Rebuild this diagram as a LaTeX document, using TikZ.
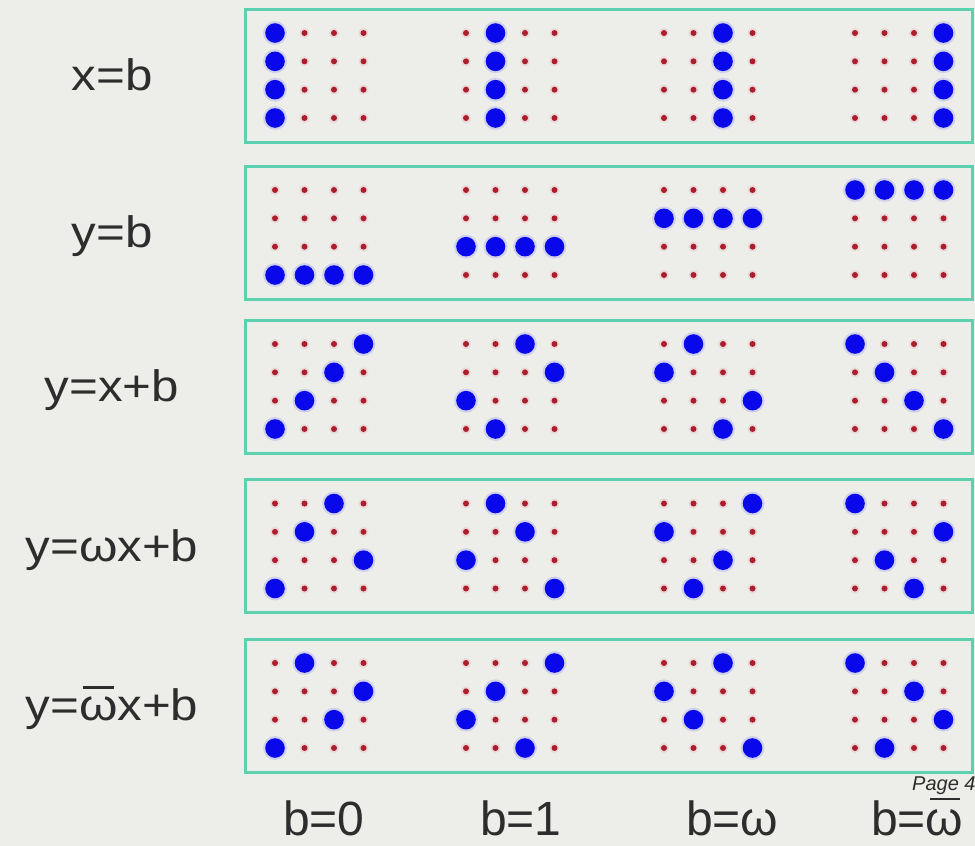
\documentclass[tikz,border=0pt]{standalone}
\usepackage{graphicx}
\usepackage{fontspec}
\setmainfont{Liberation Sans}
\definecolor{bgc}{RGB}{237,238,233}
\definecolor{framec}{RGB}{92,208,175}
\definecolor{dotred}{RGB}{170,30,45}
\definecolor{dotblue}{RGB}{8,8,235}
\definecolor{txtc}{RGB}{45,45,45}
\newcommand\wbar{\setbox0\hbox{ω}\rlap{\raisebox{0.72em}{\hbox to \wd0{\hss\rule{0.8\wd0}{0.055em}\hss}}}\box0}
\newcommand\gfblue[6]{%
  \foreach \cc/\rr in {0/#3,1/#4,2/#5,3/#6}{%
    \fill[bluehalo] ({#2+29.5*\cc},{#1+42.5-28.33*\rr}) circle[radius=12];
    \fill[bluedot] ({#2+29.5*\cc},{#1+42.5-28.33*\rr}) circle[radius=9.8];}}
\begin{document}
\begin{tikzpicture}[x=1pt,y=-1pt,
  panel/.style={draw=framec,line width=3pt,minimum width=727pt,minimum height=133pt,inner sep=0pt},
  reddot/.style={fill=dotred},
  redhalo/.style={fill=dotred!30,opacity=0.4},
  bluedot/.style={fill=dotblue},
  bluehalo/.style={fill=dotblue!40,opacity=0.35},
  eqlabel/.style={text=txtc,anchor=base,inner sep=0pt,font=\fontsize{44}{50}\selectfont},
  blabel/.style={text=txtc,anchor=base west,inner sep=0pt,font=\fontsize{48}{54}\selectfont}]
\fill[bgc] (0,0) rectangle (975,846);
\useasboundingbox (0,0) rectangle (975,846);
% panels
\foreach \i/\c in {1/75.5,2/232.5,3/386.5,4/546,5/705.5}{
  \node[panel] (box\i) at (608.5,\c) {};
  \foreach \gx in {275,466,664,855}{
    \foreach \cc in {0,1,2,3}{
      \foreach \rr in {0,1,2,3}{
        \fill[redhalo] ({\gx+29.5*\cc},{\c+42.5-28.33*\rr}) circle[radius=5];
        \fill[reddot] ({\gx+29.5*\cc},{\c+42.5-28.33*\rr}) circle[radius=3];
      }}}}
% box 1: x=b
\foreach \gx/\col in {275/0,466/1,664/2,855/3}{
  \foreach \rr in {0,1,2,3}{
    \fill[bluehalo] ({\gx+29.5*\col},{75.5+42.5-28.33*\rr}) circle[radius=12];
    \fill[bluedot] ({\gx+29.5*\col},{75.5+42.5-28.33*\rr}) circle[radius=9.8];}}
% box 2: y=b
\gfblue{232.5}{275}{0}{0}{0}{0}
\gfblue{232.5}{466}{1}{1}{1}{1}
\gfblue{232.5}{664}{2}{2}{2}{2}
\gfblue{232.5}{855}{3}{3}{3}{3}
% box 3: y=x+b
\gfblue{386.5}{275}{0}{1}{2}{3}
\gfblue{386.5}{466}{1}{0}{3}{2}
\gfblue{386.5}{664}{2}{3}{0}{1}
\gfblue{386.5}{855}{3}{2}{1}{0}
% box 4: y=wx+b
\gfblue{546}{275}{0}{2}{3}{1}
\gfblue{546}{466}{1}{3}{2}{0}
\gfblue{546}{664}{2}{0}{1}{3}
\gfblue{546}{855}{3}{1}{0}{2}
% box 5: y=wbar x+b
\gfblue{705.5}{275}{0}{3}{1}{2}
\gfblue{705.5}{466}{1}{2}{0}{3}
\gfblue{705.5}{664}{2}{1}{3}{0}
\gfblue{705.5}{855}{3}{0}{2}{1}
% left labels
\node[eqlabel] (l1) at (112,90.5) {\scalebox{1.12}[1]{x=b}};
\node[eqlabel] (l2) at (112,247.5) {\scalebox{1.12}[1]{y=b}};
\node[eqlabel] (l3) at (112,401.5) {\scalebox{1.12}[1]{y=x+b}};
\node[eqlabel] (l4) at (112,561) {\scalebox{1.12}[1]{y=ωx+b}};
\node[eqlabel] (l5) at (112,720.5) {\scalebox{1.12}[1]{y=\wbar x+b}};
% bottom labels
\node[blabel] (b0) at (283,835) {b=0};
\node[blabel] (b1) at (480,835) {b=1};
\node[blabel] (b2) at (686,835) {b=ω};
\node[blabel] (b3) at (871,835) {b=\wbar};
\node[text=txtc,anchor=base west,inner sep=0pt,font=\fontsize{20}{24}\selectfont\itshape] (pg) at (912,790) {Page 4};
\end{tikzpicture}
\end{document}
